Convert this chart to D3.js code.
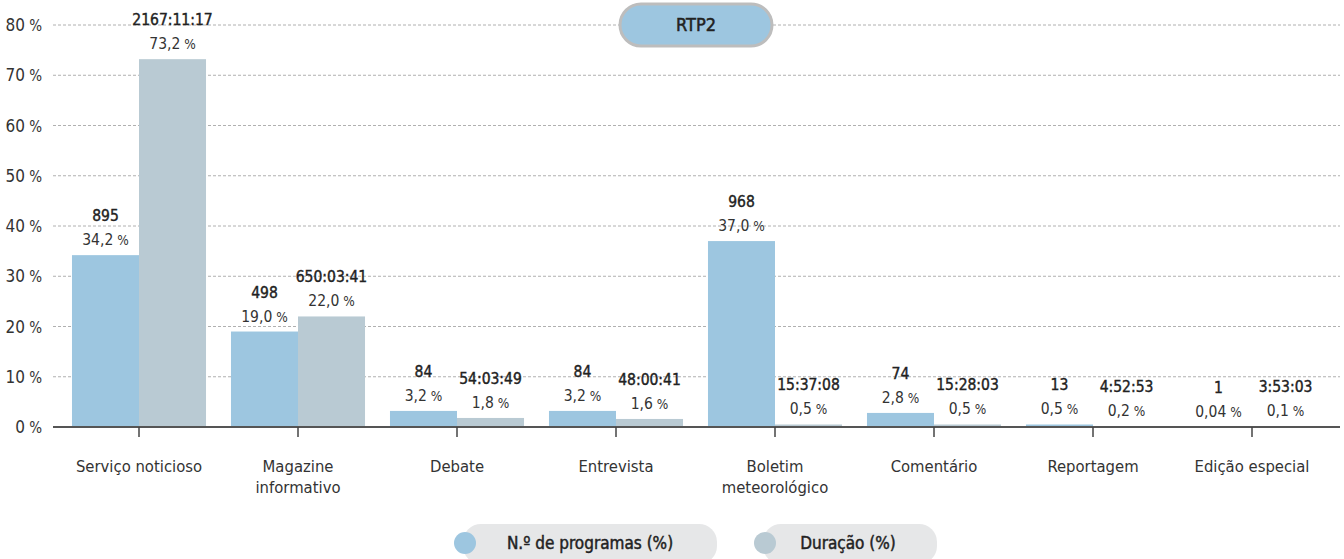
<!DOCTYPE html>
<html><head><meta charset="utf-8">
<script src="https://cdn.jsdelivr.net/npm/d3@7"></script>
<style>
body{margin:0;background:#fff;}
svg{display:block;font-family:'DejaVu Sans Condensed','Liberation Sans Narrow',sans-serif;}
</style></head>
<body><svg id="c" width="1344" height="559"></svg>
<script>
const categories = ["Serviço noticioso","Magazine informativo","Debate","Entrevista","Boletim meteorológico","Comentário","Reportagem","Edição especial"];
const categoryLines = [["Serviço noticioso"],["Magazine","informativo"],["Debate"],["Entrevista"],["Boletim","meteorológico"],["Comentário"],["Reportagem"],["Edição especial"]];
const progCount = [895,498,84,84,968,74,13,1];
const progPct = [34.2,19.0,3.2,3.2,37.0,2.8,0.5,0.04];
const durTime = ["2167:11:17","650:03:41","54:03:49","48:00:41","15:37:08","15:28:03","4:52:53","3:53:03"];
const durPct = [73.2,22.0,1.8,1.6,0.5,0.5,0.2,0.1];
const yTicks = [0,10,20,30,40,50,60,70,80];
const seriesNames = ["N.º de programas (%)","Duração (%)"];
const colors = ["#9dc6e0","#b9cad3"];

const svg = d3.select("#c");
const y = d3.scaleLinear().domain([0,80]).range([427,25]);
const x = d3.scaleBand().domain(categories).range([59.5,1331.5]).paddingInner(0.157).paddingOuter(0.0785);
const x1 = d3.scaleBand().domain([0,1]).range([0,x.bandwidth()]);
const fmtNum = v => (v < 0.1 ? v.toFixed(2) : v.toFixed(1)).replace(".", ",");

// grid
svg.append("g").selectAll("line").data(yTicks.filter(t=>t>0)).join("line")
  .attr("x1",53).attr("x2",1340).attr("y1",d=>y(d)).attr("y2",d=>y(d))
  .attr("stroke","#b0b0b0").attr("stroke-width",1).attr("stroke-dasharray","3,2");

function pctText(sel, num, smallSize){
  sel.append("tspan").text(num);
  sel.append("tspan").attr("font-size",smallSize).text(" %");
}

// y labels
yTicks.forEach(d=>{
  const t = svg.append("text").attr("x",42).attr("y",y(d)+6).attr("text-anchor","end")
    .attr("font-size",17).attr("fill","#333");
  pctText(t, d, 15);
});

// title pill
svg.append("rect").attr("x",620).attr("y",4).attr("width",152).attr("height",42).attr("rx",21)
  .attr("fill","#9dc6e0").attr("stroke","#bdbdbd").attr("stroke-width",3);
svg.append("text").attr("x",696).attr("y",31).attr("text-anchor","middle")
  .attr("font-size",18).attr("fill","#222").attr("stroke","#222").attr("stroke-width",0.5).text("RTP2");

// bars
const series = [progPct, durPct];
const g = svg.append("g");
categories.forEach((c,i)=>{
  series.forEach((s,j)=>{
    const bx = x(c)+x1(j), bw = x1.bandwidth(), top = y(s[i]);
    g.append("rect").attr("x",bx).attr("y",top).attr("width",bw).attr("height",y(0)-top).attr("fill",colors[j]);
    const t = g.append("text").attr("x",bx+bw/2).attr("y",top-10).attr("text-anchor","middle")
      .attr("font-size",15.5).attr("fill","#333");
    pctText(t, fmtNum(s[i]), 13.5);
    g.append("text").attr("x",bx+bw/2).attr("y",top-34).attr("text-anchor","middle")
      .attr("font-size",15.5).attr("fill","#222").attr("stroke","#222").attr("stroke-width",0.4)
      .text(j===0 ? progCount[i] : durTime[i]);
  });
});

// x axis
svg.append("line").attr("x1",53).attr("x2",1340).attr("y1",427).attr("y2",427).attr("stroke","#555").attr("stroke-width",2);
const xa = svg.append("g");
categories.forEach((c,i)=>{
  const cx = x(c)+x.bandwidth()/2;
  xa.append("line").attr("x1",cx).attr("x2",cx).attr("y1",427).attr("y2",437).attr("stroke","#444").attr("stroke-width",1.5);
  const t = xa.append("text").attr("text-anchor","middle").attr("font-size",16.5).attr("fill","#333");
  categoryLines[i].forEach((ln,k)=>{
    t.append("tspan").attr("x",cx).attr("y",472+k*21).text(ln);
  });
});

// legend
const legend = [{x:463,w:254,tx:590},{x:763,w:174,tx:848}];
legend.forEach((l,i)=>{
  svg.append("rect").attr("x",l.x).attr("y",524).attr("width",l.w).attr("height",40).attr("rx",18).attr("fill","#e6e7e8");
  svg.append("circle").attr("cx",l.x+2).attr("cy",543).attr("r",11).attr("fill",colors[i]);
  svg.append("text").attr("x",l.tx).attr("y",549).attr("text-anchor","middle").attr("font-size",17)
    .attr("fill","#222").attr("stroke","#222").attr("stroke-width",0.45).text(seriesNames[i]);
});
</script></body></html>
